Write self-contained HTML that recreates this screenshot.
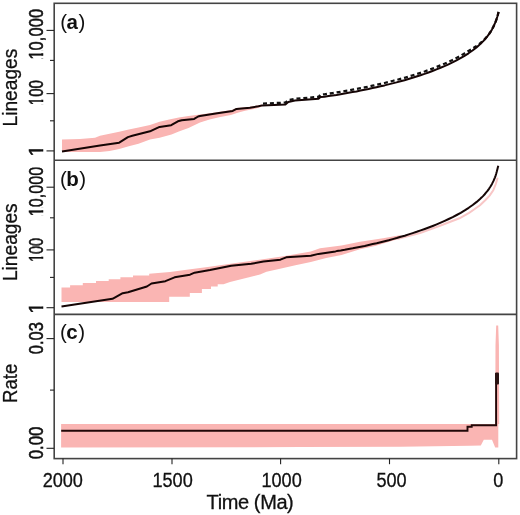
<!DOCTYPE html>
<html><head><meta charset="utf-8">
<style>
html,body{margin:0;padding:0;background:#fff;}
body{width:520px;height:515px;overflow:hidden;}
svg{display:block;}
text{font-family:"Liberation Sans",sans-serif;fill:#111;stroke:#111;stroke-width:0.3px;}
.tl{font-size:19.5px;}
.yl text{stroke-width:0.55px;}
.pl{font-size:20.5px;}
.pn text{stroke-width:0;}
</style></head>
<body>
<svg width="520" height="515" viewBox="0 0 520 515">
<rect width="520" height="515" fill="#fff"/>
<defs>
<clipPath id="c1a" clipPathUnits="userSpaceOnUse"><rect x="20" y="140" width="20.8" height="20"/><rect x="40" y="149.25" width="4" height="2.3"/></clipPath>
<clipPath id="c1b" clipPathUnits="userSpaceOnUse"><rect x="20" y="296" width="20.8" height="20"/><rect x="40" y="306.45" width="4" height="2.3"/></clipPath>
<clipPath id="k1a" clipPathUnits="userSpaceOnUse"><rect x="20" y="-19.5" width="20.8" height="148.0"/><rect x="40" y="-19.5" width="8" height="70"/><rect x="40" y="58.5" width="8" height="70"/><rect x="40" y="53.3" width="8" height="2.5"/></clipPath>
<clipPath id="h1a" clipPathUnits="userSpaceOnUse"><rect x="20" y="26.5" width="20.8" height="148.0"/><rect x="40" y="26.5" width="8" height="70"/><rect x="40" y="104.5" width="8" height="70"/><rect x="40" y="99.8" width="8" height="2.3"/></clipPath>
<clipPath id="k1b" clipPathUnits="userSpaceOnUse"><rect x="20" y="137.5" width="20.8" height="148.0"/><rect x="40" y="137.5" width="8" height="70"/><rect x="40" y="215.5" width="8" height="70"/><rect x="40" y="210.3" width="8" height="2.3"/></clipPath>
<clipPath id="h1b" clipPathUnits="userSpaceOnUse"><rect x="20" y="183.5" width="20.8" height="148.0"/><rect x="40" y="183.5" width="8" height="70"/><rect x="40" y="261.5" width="8" height="70"/><rect x="40" y="256.8" width="8" height="2.0"/></clipPath>
</defs>

<!-- ============ PANEL A ============ -->
<g id="pa">
<!-- pink band -->
<path fill="#fab5b3" d="M62.0,139.4 L80.0,139.0 L95.0,137.8 L100.0,135.7 L109.6,133.8 L119.2,131.8 L128.8,129.4 L138.5,127.5 L150.0,125.0 L159.6,121.8 L169.2,119.4 L178.8,117.5 L188.5,116.1 L200.0,114.5 L217.3,112.2 L232.7,109.8 L236.5,107.9 L250.0,106.8 L258.5,105.3 L262.0,104.5 L262.0,106.5 L259.4,107.5 L255.0,108.8 L245.0,110.7 L238.5,112.5 L230.8,115.0 L219.2,117.3 L209.6,119.5 L200.0,122.5 L188.5,128.1 L178.8,131.4 L171.5,134.5 L159.6,137.7 L150.0,139.6 L138.5,143.8 L128.8,146.2 L119.2,149.1 L109.6,151.0 L100.0,152.0 L62.0,152.0 Z"/>
<!-- dashed line -->
<path fill="none" stroke="#111" stroke-width="2.3" stroke-dasharray="4 2.9" d="M263.0,103.6 L285.4,102.6 L288.3,100.2 L295.0,98.8 L318.5,96.9 L320.5,94.6 L324.5,94.3 L328.5,93.7 L332.5,93.1 L336.5,92.5 L340.5,91.8 L344.5,91.1 L348.5,90.4 L352.5,89.7 L356.5,89.0 L360.5,88.2 L364.5,87.4 L368.5,86.6 L372.5,85.7 L376.5,84.8 L380.5,83.9 L384.5,83.0 L388.5,82.0 L392.5,81.0 L396.5,80.0 L400.5,78.9 L404.5,77.8 L408.5,76.6 L412.5,75.4 L416.5,74.1 L420.5,72.8 L424.5,71.5 L428.5,70.1 L432.5,68.6 L436.5,67.0 L440.5,65.4 L444.5,63.7 L448.5,61.9 L452.5,60.0 L456.5,57.9 L460.5,55.8 L464.5,53.4 L468.5,50.9 L472.5,48.6 L476.5,46.0 L480.0,43.4 L481.5,42.1 L483.0,40.8 L484.5,39.3 L486.0,37.8 L487.5,36.1 L489.0,34.1 L490.5,31.9 L492.0,29.4 L493.5,26.5 L495.0,23.2 L495.6,21.8 L496.2,20.2 L496.8,18.4 L497.4,16.5 L498.0,14.3 L498.6,11.9 L498.6,11.9"/>
<!-- solid line -->
<path fill="none" stroke="#150505" stroke-width="2" stroke-linejoin="round" d="M62.0,151.5 L100.0,145.6 L119.2,142.7 L127.9,137.1 L132.3,135.8 L150.0,131.3 L155.8,128.6 L159.6,126.9 L171.2,125.2 L177.9,121.3 L181.7,120.2 L194.2,118.9 L198.1,116.5 L200.0,116.0 L217.3,113.3 L232.7,110.9 L236.5,108.9 L250.0,107.8 L258.5,106.3 L262.3,105.4 L285.4,104.4 L288.3,102.0 L295.0,100.6 L318.5,98.8 L320.5,97.0 L324.5,96.7 L328.5,96.1 L332.5,95.5 L336.5,94.9 L340.5,94.2 L344.5,93.5 L348.5,92.8 L352.5,92.1 L356.5,91.4 L360.5,90.6 L364.5,89.8 L368.5,89.0 L372.5,88.1 L376.5,87.2 L380.5,86.3 L384.5,85.4 L388.5,84.4 L392.5,83.4 L396.5,82.4 L400.5,81.3 L404.5,80.2 L408.5,79.0 L412.5,77.8 L416.5,76.5 L420.5,75.2 L424.5,73.9 L428.5,72.5 L432.5,71.0 L436.5,69.4 L440.5,67.8 L444.5,66.1 L448.5,64.3 L452.5,62.4 L456.5,60.3 L460.5,58.2 L464.5,55.8 L468.5,53.3 L472.5,50.5 L476.5,47.4 L480.0,44.3 L481.5,42.9 L483.0,41.4 L484.5,39.8 L486.0,38.0 L487.5,36.1 L489.0,34.1 L490.5,31.9 L492.0,29.4 L493.5,26.5 L495.0,23.2 L495.6,21.8 L496.2,20.2 L496.8,18.4 L497.4,16.5 L498.0,14.3 L498.6,11.9 L498.6,11.9"/>
</g>

<!-- ============ PANEL B ============ -->
<g id="pb">
<path fill="#fab5b3" d="M61.5,287.5 L70.1,287.5 L70.1,285.2 L82.8,285.2 L82.8,282.9 L96,282.9 L96,281.1 L108.7,281.1 L108.7,279.3 L120.4,279.3 L120.4,277.3 L133,277.3 L133,275.6 L149.2,275.6 L149.2,273.8 L170,272.1 L188.5,269.4 L207.7,266.9 L235.8,263.1 L266.5,258.8 L285,256 L310.8,251.5 L320,248.3 L341.5,245.5 L360,241.8 L383,238.3 L400,235.2 L402,237 L400,238.6 L375,246.1 L360,249.2 L341.5,255 L326.2,258.1 L310.8,261.9 L295.4,265.3 L280,268.8 L266.5,271.8 L260,274.4 L245,278.3 L230,282 L223.5,284.2 L217.7,284.2 L217.7,286.5 L211,286.5 L211,289 L201.9,289 L201.9,292.9 L189.8,292.9 L189.8,296.7 L169.2,296.7 L169.2,301.9 L61.5,301.9 Z"/>
<!-- pale pink line -->
<path fill="none" stroke="#f8c6c6" stroke-width="2" stroke-linecap="round" stroke-linejoin="round" d="M398,238.8 L420,233 L440,225.8 L459.4,218.3 L469.1,212.8 L474,209.5 L480,205.2 L485.5,200 L489.6,195.6 L493.3,190.2 L495.8,184 L497.4,178.5"/>
<path fill="none" stroke="#150505" stroke-width="2" stroke-linejoin="round" d="M61.5,306.6 L112.5,298.8 L122.7,293.2 L128,292.3 L146.9,286.5 L151.5,283.5 L165.4,281.2 L174.6,277.3 L190,274.7 L194.6,272.7 L210,270.1 L231.2,265.8 L251.2,263.8 L263.5,261.5 L280.4,259.7 L286.2,257.3 L310.8,255.8 L318.5,253.9 L335.5,251.4 L336.7,251.1 L340.7,250.5 L344.7,249.8 L348.7,249.0 L352.7,248.3 L356.7,247.5 L360.7,246.7 L364.7,245.9 L368.7,245.0 L372.7,244.1 L376.7,243.2 L380.7,242.2 L384.7,241.2 L388.7,240.2 L392.7,239.1 L396.7,238.0 L400.7,236.8 L404.7,235.7 L408.7,234.4 L412.7,233.1 L416.7,231.8 L420.7,230.4 L424.7,229.0 L428.7,227.5 L432.7,226.0 L436.7,224.4 L440.7,222.7 L444.7,220.9 L448.7,219.0 L452.7,217.1 L456.7,215.0 L460.7,212.8 L464.7,210.4 L468.7,207.8 L472.7,205.0 L476.7,201.9 L480.0,199.0 L481.5,197.6 L483.0,196.1 L484.5,194.5 L486.0,192.7 L487.5,190.9 L489.0,188.8 L490.5,186.5 L492.0,183.9 L493.5,180.9 L495.0,177.3 L495.6,175.6 L496.2,173.7 L496.8,171.6 L497.4,169.3 L498.0,166.8 L498.3,165.8"/>
</g>

<!-- ============ PANEL C ============ -->
<g id="pc">
<path fill="#fab5b3" d="M61.1,423.9 L495.2,423.9 L495.5,345 L496.2,325.4 L498.2,325.4 L498.9,345 L499.2,424 L498.3,424 L498.3,447.6 L495.2,447.6 L492,439.7 L483.8,439.7 L480.8,445.6 L470,445.8 L400,446.7 L300,447.1 L61.1,447.4 Z"/>
<path fill="none" stroke="#200808" stroke-width="1.9" d="M61.2,430.8 L467.5,430.8 L467.5,426.8 L471.7,426.8 L471.7,425.3 L496.1,425.3 L496.1,373"/>
<rect x="495.1" y="372.4" width="3.9" height="12.1" rx="1" fill="#2a1212"/>
</g>

<!-- ============ FRAMES ============ -->
<g fill="none" stroke="#444" stroke-width="1.6">
<rect x="54.2" y="3.3" width="462.4" height="455.3"/>
<line x1="54.2" y1="160.3" x2="516.6" y2="160.3"/>
<line x1="54.2" y1="314.4" x2="516.6" y2="314.4"/>
</g>
<!-- ticks -->
<g stroke="#222" stroke-width="1.1">
<line x1="46.5" y1="30.4" x2="54" y2="30.4"/>
<line x1="50" y1="60.4" x2="54" y2="60.4"/>
<line x1="46.5" y1="93.6" x2="54" y2="93.6"/>
<line x1="50" y1="120.8" x2="54" y2="120.8"/>
<line x1="46.5" y1="150.9" x2="54" y2="150.9"/>

<line x1="46.5" y1="187.2" x2="54" y2="187.2"/>
<line x1="50" y1="217.8" x2="54" y2="217.8"/>
<line x1="46.5" y1="249.9" x2="54" y2="249.9"/>
<line x1="50" y1="277.4" x2="54" y2="277.4"/>
<line x1="46.5" y1="307.7" x2="54" y2="307.7"/>

<line x1="46.5" y1="338.6" x2="54" y2="338.6"/>
<line x1="50" y1="390.1" x2="54" y2="390.1"/>
<line x1="46.5" y1="448.3" x2="54" y2="448.3"/>

<line x1="63" y1="458.6" x2="63" y2="464.2"/>
<line x1="172" y1="458.6" x2="172" y2="464.2"/>
<line x1="280.6" y1="458.6" x2="280.6" y2="464.2"/>
<line x1="389.5" y1="458.6" x2="389.5" y2="464.2"/>
<line x1="498.8" y1="458.6" x2="498.8" y2="464.2"/>
</g>

<!-- x tick labels -->
<g class="tl" text-anchor="middle">
<text x="62.8" y="486.6" textLength="40.32" lengthAdjust="spacingAndGlyphs">2000</text>
<text x="172.6" y="486.6" textLength="40.32" lengthAdjust="spacingAndGlyphs">1500</text>
<text x="281.6" y="486.6" textLength="40.32" lengthAdjust="spacingAndGlyphs">1000</text>
<text x="391.5" y="486.6" textLength="30.24" lengthAdjust="spacingAndGlyphs">500</text>
<text x="498.4" y="486.6" textLength="10.08" lengthAdjust="spacingAndGlyphs">0</text>
</g>
<text x="250" y="509.2" text-anchor="middle" style="font-size:20px;letter-spacing:-0.4px">Time (Ma)</text>

<!-- y tick labels -->
<g class="tl yl" text-anchor="middle">
<g clip-path="url(#k1a)"><text transform="translate(42.7,34.25) rotate(-90)" textLength="50.7" lengthAdjust="spacingAndGlyphs">10,000</text></g>
<g clip-path="url(#h1a)"><text transform="translate(42.7,92.6) rotate(-90)" textLength="25.1" lengthAdjust="spacingAndGlyphs">100</text></g>
<g clip-path="url(#c1a)"><text transform="translate(42.7,150.9) rotate(-90)">1</text></g>
<g clip-path="url(#k1b)"><text transform="translate(42.7,191.5) rotate(-90)" textLength="49.5" lengthAdjust="spacingAndGlyphs">10,000</text></g>
<g clip-path="url(#h1b)"><text transform="translate(42.7,249.9) rotate(-90)" textLength="24.0" lengthAdjust="spacingAndGlyphs">100</text></g>
<g clip-path="url(#c1b)"><text transform="translate(42.7,308.1) rotate(-90)">1</text></g>
<text transform="translate(42.7,338.15) rotate(-90)" textLength="32.1" lengthAdjust="spacingAndGlyphs">0.03</text>
<text transform="translate(42.7,442.9) rotate(-90)" textLength="32.6" lengthAdjust="spacingAndGlyphs">0.00</text>
</g>
<g class="pl" text-anchor="middle">
<text transform="translate(17.1,87.6) rotate(-90)" textLength="77.6" lengthAdjust="spacingAndGlyphs">Lineages</text>
<text transform="translate(17.1,242.2) rotate(-90)" textLength="77.8" lengthAdjust="spacingAndGlyphs">Lineages</text>
<text transform="translate(17.1,383.3) rotate(-90)" textLength="39.4" lengthAdjust="spacingAndGlyphs">Rate</text>
</g>

<!-- panel labels -->
<g class="pl pn">
<text x="60.2" y="28.5">(<tspan font-weight="bold" dx="-0.5">a</tspan><tspan dx="0.5">)</tspan></text>
<text x="59.9" y="185.6">(<tspan font-weight="bold" dx="-0.5">b</tspan><tspan dx="0.5">)</tspan></text>
<text x="59.9" y="339.2">(<tspan font-weight="bold" dx="-0.5">c</tspan><tspan dx="0.5">)</tspan></text>
</g>
</svg>
</body></html>
